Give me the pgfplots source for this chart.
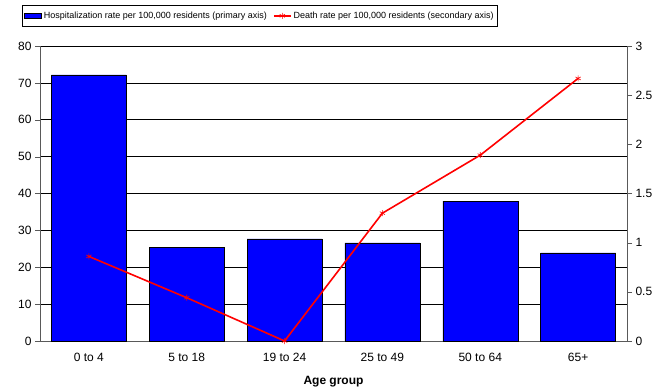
\documentclass[border=0pt]{standalone}
\usepackage{pgfplots}
\pgfplotsset{compat=1.18}
\usepackage{fontspec}
\setmainfont{Liberation Sans}
\begin{document}
\begin{tikzpicture}[x=1pt,y=1pt]
\useasboundingbox (-40,-48) rectangle (627,341);
\begin{axis}[
  at={(0,0)}, anchor=south west,
  scale only axis, width=587pt, height=295pt,
  xmin=-0.5, xmax=5.5, ymin=0, ymax=80,
  ytick={0,10,...,80},
  xtick={0,...,5},
  xticklabels={0 to 4,5 to 18,19 to 24,25 to 49,50 to 64,65+},
  x tick style={draw=none},
  extra x ticks={-0.5,0.5,...,5.5},
  extra x tick labels={},
  extra x tick style={tick style={draw=gray!70!black}, major tick length=4pt},
  axis x line=bottom, axis y line=left,
  axis line style={-, draw=gray!70!black, line width=1pt},
  tick align=outside,
  major tick length=5pt,
  y tick style={draw=gray!70!black},
  ymajorgrids, grid style={black, line width=0.6pt},
  tick label style={font=\fontsize{12}{14}\selectfont},
  /pgf/number format/assume math mode=true,
  xlabel={\textbf{Age group}},
  xlabel style={font=\fontsize{12}{14}\selectfont, yshift=2pt},
  x tick label style={yshift=-4pt},
  legend style={at={(-18pt,336pt)}, anchor=north west, draw=black, line width=0.6pt,
    font=\fontsize{9}{11}\selectfont, legend columns=2,
    /tikz/every even column/.append style={column sep=4pt},
    inner ysep=4.5pt, inner xsep=2pt},
  legend cell align=left,
  clip=false,
]
\addplot[ybar, bar width=75pt, fill=blue, draw=black, line width=0.5pt, area legend]
  coordinates {(0,72.2) (1,25.3) (2,27.7) (3,26.6) (4,37.9) (5,23.9)};
\addlegendentry{Hospitalization rate per 100,000 residents (primary axis)}
\addlegendimage{red, line width=1.6pt, mark=asterisk, mark size=3pt, mark options={line width=0.6pt}}
\addlegendentry{Death rate per 100,000 residents (secondary axis)}
\end{axis}
\begin{axis}[
  at={(0,0)}, anchor=south west,
  scale only axis, width=587pt, height=295pt,
  xmin=-0.5, xmax=5.5, ymin=0, ymax=3,
  ytick={0,0.5,...,3},
  axis x line=none, axis y line=right,
  axis line style={-, draw=gray!70!black, line width=1pt},
  tick align=outside, major tick length=5pt,
  y tick style={draw=gray!70!black},
  tick label style={font=\fontsize{12}{14}\selectfont},
  /pgf/number format/assume math mode=true,
  clip=false,
]
\addplot[red, line width=1.6pt, mark=asterisk, mark size=3pt, mark options={line width=0.6pt}]
  coordinates {(0,0.86) (1,0.44) (2,0.0) (3,1.30) (4,1.89) (5,2.67)};
\end{axis}
\end{tikzpicture}
\end{document}
